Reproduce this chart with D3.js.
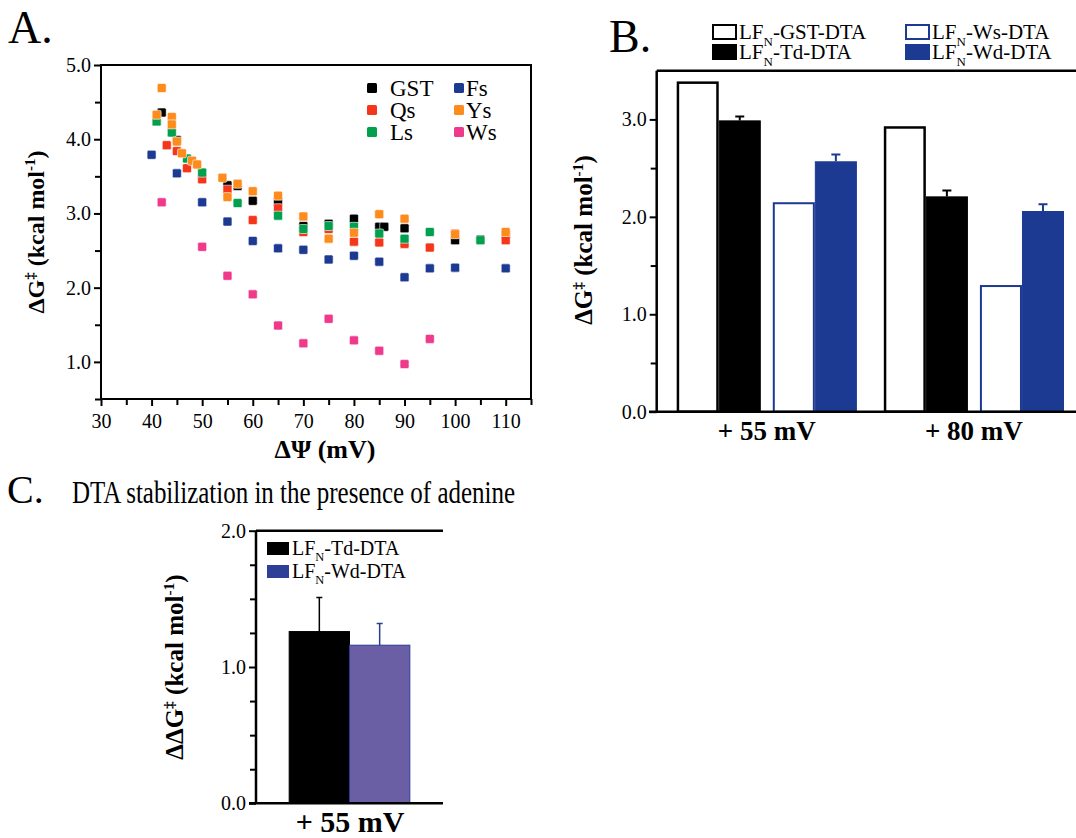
<!DOCTYPE html>
<html lang="en">
<head>
<meta charset="UTF-8">
<title>DTA translocation</title>
<script src="https://d3js.org/d3.v7.min.js"></script>
<style>
body { margin: 0; background: #fff; }
svg text { font-family: "Liberation Serif", "Times New Roman", serif; fill: #000; }
.axis path, .axis line { stroke: #000; stroke-width: 2; }
.axis text { font-size: 20px; }
</style>
</head>
<body>
<svg width="1076" height="838"></svg>
<script>
// ---- Panel A: ΔG‡ vs ΔΨ for each construct ----
const gstX = [42, 45, 55, 57, 60, 65, 70, 75, 80, 85, 86, 90, 100, 105, 110];
const gstY = [4.36, 3.99, 3.38, 3.37, 3.17, 3.16, 2.83, 2.86, 2.93, 2.82, 2.82, 2.80, 2.64, 2.65, 2.72];
const qsX = [41, 43, 45, 47, 50, 55, 60, 65, 70, 75, 80, 85, 90, 95, 100, 110];
const qsY = [4.24, 3.92, 3.84, 3.61, 3.46, 3.32, 2.91, 3.07, 2.75, 2.79, 2.62, 2.61, 2.59, 2.54, 2.73, 2.64];
const lsX = [41, 44, 47, 50, 57, 65, 70, 75, 80, 85, 90, 95, 105];
const lsY = [4.24, 4.09, 3.74, 3.55, 3.14, 2.97, 2.79, 2.83, 2.82, 2.73, 2.66, 2.75, 2.64];
const fsX = [40, 45, 50, 55, 60, 65, 70, 75, 80, 85, 90, 95, 100, 110];
const fsY = [3.79, 3.54, 3.15, 2.89, 2.63, 2.53, 2.51, 2.38, 2.43, 2.35, 2.14, 2.26, 2.27, 2.26];
const wsX = [42, 50, 55, 60, 65, 70, 75, 80, 85, 90, 95];
const wsY = [3.15, 2.55, 2.16, 1.91, 1.49, 1.25, 1.58, 1.29, 1.15, 0.97, 1.31];
const ysX = [41, 42, 44, 44, 45, 46, 48, 49, 54, 55, 57, 60, 65, 70, 75, 80, 85, 90, 100, 110];
const ysY = [4.33, 4.69, 4.30, 4.20, 3.97, 3.81, 3.71, 3.66, 3.48, 3.22, 3.40, 3.30, 3.24, 2.96, 2.66, 2.74, 2.99, 2.93, 2.72, 2.75];
const aXTicks = [30, 40, 50, 60, 70, 80, 90, 100, 110];
const aYTicks = [1, 2, 3, 4, 5];

// ---- Panel B: ΔG‡ at two potentials ----
const bGroups = ["+ 55 mV", "+ 80 mV"];
const bGST = [3.39, 2.93];
const bTd = [2.99, 2.21];
const bTdErr = [0.04, 0.06];
const bWs = [2.15, 1.30];
const bWd = [2.57, 2.06];
const bWdErr = [0.07, 0.07];
const bYTicks = [0, 1, 2, 3];

// ---- Panel C: ΔΔG‡ with adenine ----
const cNames = ["Td", "Wd"];
const cVals = [1.26, 1.16];
const cErr = [0.25, 0.16];
const cYTicks = [0, 1, 2];

const blue = "#1d3a93";
const serieColors = { GST: "#000000", Qs: "#f5361b", Ls: "#00a04f", Fs: "#1d3a93", Ws: "#ef3a8b", Ys: "#fd8c1c" };

const svg = d3.select("svg");
svg.append("rect").attr("width", 1076).attr("height", 838).attr("fill", "#fff");

// text with sub/superscripts
function richText(sel, parts, size) {
    let shift = 0;
    parts.forEach(p => {
        let target = 0, fs = size;
        if (p[1] === "sup") { target = -0.38 * size; fs = size * 0.62; }
        if (p[1] === "sub") { target = 0.32 * size; fs = size * 0.62; }
        sel.append("tspan").attr("dy", target - shift).attr("font-size", fs).text(p[0]);
        shift = target;
    });
}

function yTitle(x, y, parts, size) {
    const t = svg.append("text")
        .attr("transform", `translate(${x},${y}) rotate(-90)`)
        .attr("text-anchor", "middle")
        .attr("font-weight", "bold")
        .attr("font-size", size);
    richText(t, parts, size);
}

function lfLabel(x, y, name, size) {
    const t = svg.append("text").attr("x", x).attr("y", y).attr("font-size", size);
    richText(t, [["LF"], ["N", "sub"], ["-" + name + "-DTA"]], size);
}

// panel letters
svg.append("text").attr("x", 8).attr("y", 43).attr("font-size", 46).text("A.");
svg.append("text").attr("x", 609).attr("y", 52).attr("font-size", 46).text("B.");
svg.append("text").attr("x", 7).attr("y", 503).attr("font-size", 40).text("C.");
svg.append("text").attr("x", 72).attr("y", 503).attr("font-size", 31)
    .attr("textLength", 443).attr("lengthAdjust", "spacingAndGlyphs")
    .text("DTA stabilization in the presence of adenine");

// ================= Panel A =================
const xA = d3.scaleLinear().domain([30, 115]).range([101, 531]);
const yA = d3.scaleLinear().domain([0.5, 5]).range([399, 65]);

const gA = svg.append("g");
gA.append("g").attr("class", "axis").attr("transform", "translate(0,399)")
    .call(d3.axisBottom(xA).tickValues(aXTicks).tickSize(7).tickPadding(8).tickFormat(d3.format("d")));
gA.append("g").attr("class", "axis").attr("transform", "translate(0,399)")
    .call(d3.axisBottom(xA).tickValues(d3.range(35, 116, 10)).tickSize(6).tickFormat(""));
gA.append("g").attr("class", "axis").attr("transform", "translate(101,0)")
    .call(d3.axisLeft(yA).tickValues(aYTicks).tickSize(7).tickPadding(3).tickFormat(d3.format(".1f")));
gA.append("g").attr("class", "axis").attr("transform", "translate(101,0)")
    .call(d3.axisLeft(yA).tickValues([0.5, 1.5, 2.5, 3.5, 4.5]).tickSize(6).tickFormat(""));
gA.selectAll(".axis path").attr("d", null);
gA.append("rect").attr("x", xA(30)).attr("y", yA(5))
    .attr("width", xA(115) - xA(30)).attr("height", yA(0.5) - yA(5))
    .attr("fill", "none").attr("stroke", "#000").attr("stroke-width", 2);

const aSeries = [
    ["GST", gstX, gstY], ["Qs", qsX, qsY], ["Ls", lsX, lsY],
    ["Fs", fsX, fsY], ["Ws", wsX, wsY], ["Ys", ysX, ysY]
];
aSeries.forEach(s => {
    const pts = s[1].map((x, i) => ({ x: x, y: s[2][i] }));
    gA.selectAll(null).data(pts).enter().append("rect")
        .attr("x", d => xA(d.x) - 4.5).attr("y", d => yA(d.y) - 4.5)
        .attr("width", 9).attr("height", 9).attr("rx", 1.5)
        .attr("fill", serieColors[s[0]])
        .attr("stroke", "#fff").attr("stroke-width", 0.6);
});

// legend A
const legA = [["GST", 0, 0], ["Qs", 0, 1], ["Ls", 0, 2], ["Fs", 1, 0], ["Ys", 1, 1], ["Ws", 1, 2]];
legA.forEach(l => {
    const lx = l[1] === 0 ? 367 : 454, ly = 88 + l[2] * 22;
    gA.append("rect").attr("x", lx).attr("y", ly - 5).attr("width", 10).attr("height", 10)
        .attr("rx", 1.5).attr("fill", serieColors[l[0]]);
    gA.append("text").attr("x", lx + 23 - (l[1] ? 11 : 0)).attr("y", ly + 8).attr("font-size", 23).text(l[0]);
});

yTitle(44, 232, [["ΔG"], ["‡", "sup"], [" (kcal mol"], ["-1", "sup"], [")"]], 24);
svg.append("text").attr("x", 325).attr("y", 458).attr("text-anchor", "middle")
    .attr("font-weight", "bold").attr("font-size", 26).text("ΔΨ (mV)");

// ================= Panel B =================
const yB = d3.scaleLinear().domain([0, 3.5]).range([411.7, 70.7]);
const xB = d3.scaleBand().domain(bGroups).range([656.7, 1084]).paddingInner(0.13).paddingOuter(0.0965);
const pairB = d3.scaleBand().domain(["T", "W"]).range([0, xB.bandwidth()]).paddingInner(0.125);
const barB = d3.scaleBand().domain([0, 1]).range([0, pairB.bandwidth()]);

const gB = svg.append("g");
const bBars = [];
bGroups.forEach((g, i) => {
    bBars.push({ g: g, pair: "T", k: 0, v: bGST[i], err: 0, fill: "#fff", stroke: "#000", sw: 2.5 });
    bBars.push({ g: g, pair: "T", k: 1, v: bTd[i], err: bTdErr[i], fill: "#000", stroke: "#000", sw: 1 });
    bBars.push({ g: g, pair: "W", k: 0, v: bWs[i], err: 0, fill: "#fff", stroke: blue, sw: 2 });
    bBars.push({ g: g, pair: "W", k: 1, v: bWd[i], err: bWdErr[i], fill: blue, stroke: blue, sw: 1 });
});
const bx = d => xB(d.g) + pairB(d.pair) + barB(d.k);

// error bars first (drawn above bar top only)
gB.selectAll(".errB").data(bBars.filter(d => d.err > 0)).enter().append("path")
    .attr("d", d => {
        const cx = bx(d) + barB.bandwidth() / 2, y0 = yB(d.v), y1 = yB(d.v + d.err);
        return `M${cx},${y0}V${y1}M${cx - 4.5},${y1}H${cx + 4.5}`;
    })
    .attr("stroke", d => d.stroke).attr("stroke-width", 2).attr("fill", "none");
gB.selectAll(".barB").data(bBars).enter().append("rect")
    .attr("x", d => bx(d) + d.sw / 2)
    .attr("y", d => yB(d.v) + d.sw / 2)
    .attr("width", d => barB.bandwidth() - d.sw)
    .attr("height", d => yB(0) - yB(d.v) - d.sw / 2)
    .attr("fill", d => d.fill).attr("stroke", d => d.stroke).attr("stroke-width", d => d.sw);

gB.append("g").attr("class", "axis").attr("transform", "translate(656.7,0)")
    .call(d3.axisLeft(yB).tickValues(bYTicks).tickSize(7).tickPadding(3).tickFormat(d3.format(".1f")));
gB.append("g").attr("class", "axis").attr("transform", "translate(656.7,0)")
    .call(d3.axisLeft(yB).tickValues([0.5, 1.5, 2.5]).tickSize(6).tickFormat(""));
gB.selectAll(".axis path").attr("d", null);
gB.append("path").attr("d", `M656.7,70.7H1090M656.7,70.7V411.7M649,411.7H1090`)
    .attr("stroke", "#000").attr("stroke-width", 2.5).attr("fill", "none");
gB.selectAll(".axis text").attr("font-size", 21);

gB.selectAll(".grpB").data(bGroups).enter().append("text")
    .attr("x", d => xB(d) + xB.bandwidth() / 2).attr("y", 440)
    .attr("text-anchor", "middle").attr("font-weight", "bold").attr("font-size", 27)
    .text(d => d);

// legend B
const legB = [["GST", 712, 24, "#fff", "#000"], ["Td", 712, 44, "#000", "#000"],
              ["Ws", 905, 24, "#fff", blue], ["Wd", 905, 44, blue, blue]];
legB.forEach(l => {
    gB.append("rect").attr("x", l[1] + 1).attr("y", l[2] + 1).attr("width", 23).attr("height", 14)
        .attr("fill", l[3]).attr("stroke", l[4]).attr("stroke-width", 2);
    lfLabel(l[1] + 27, l[2] + 15, l[0], 21);
});
yTitle(592, 240, [["ΔG"], ["‡", "sup"], [" (kcal mol"], ["-1", "sup"], [")"]], 25);

// ================= Panel C =================
const yC = d3.scaleLinear().domain([0, 2]).range([803.3, 530.7]);
const xC = d3.scaleBand().domain(cNames).range([256, 443]).paddingOuter(0.55);
const cFill = { Td: "#000", Wd: "#6a5fa4" };
const cStroke = { Td: "#000", Wd: "#2b3b96" };
const cData = cNames.map((n, i) => ({ n: n, v: cVals[i], err: cErr[i] }));

const gC = svg.append("g");
gC.selectAll(".errC").data(cData).enter().append("path")
    .attr("d", d => {
        const cx = xC(d.n) + xC.bandwidth() / 2, y0 = yC(d.v), y1 = yC(d.v + d.err);
        return `M${cx},${y0}V${y1}M${cx - 3},${y1}H${cx + 3}`;
    })
    .attr("stroke", d => cStroke[d.n]).attr("stroke-width", 1.5).attr("fill", "none");
gC.selectAll(".barC").data(cData).enter().append("rect")
    .attr("x", d => xC(d.n)).attr("y", d => yC(d.v))
    .attr("width", xC.bandwidth()).attr("height", d => yC(0) - yC(d.v))
    .attr("fill", d => cFill[d.n]).attr("stroke", d => cStroke[d.n]).attr("stroke-width", 1);

gC.append("g").attr("class", "axis").attr("transform", "translate(256,0)")
    .call(d3.axisLeft(yC).tickValues(cYTicks).tickSize(7).tickPadding(3).tickFormat(d3.format(".1f")));
gC.append("g").attr("class", "axis").attr("transform", "translate(256,0)")
    .call(d3.axisLeft(yC).tickValues([0.25, 0.5, 0.75, 1.25, 1.5, 1.75]).tickSize(6).tickFormat(""));
gC.selectAll(".axis path").attr("d", null);
gC.selectAll(".axis text").attr("font-size", 24);
gC.append("path").attr("d", `M256,530.7H443M256,530.7V803.3M249,803.3H443`)
    .attr("stroke", "#000").attr("stroke-width", 2.5).attr("fill", "none");

gC.append("text").attr("x", xC.range()[0] + (xC.range()[1] - xC.range()[0]) / 2 + 0.5).attr("y", 832)
    .attr("text-anchor", "middle").attr("font-weight", "bold").attr("font-size", 30).text("+ 55 mV");

const legC = [["Td", 545, "#000"], ["Wd", 568, "#2d3f96"]];
legC.forEach(l => {
    gC.append("rect").attr("x", 267).attr("y", l[1] - 3).attr("width", 22).attr("height", 13).attr("fill", l[2]);
    lfLabel(292, l[1] + 10, l[0], 20);
});
yTitle(183, 667, [["ΔΔG"], ["‡", "sup"], [" (kcal mol"], ["-1", "sup"], [")"]], 25);
</script>
</body>
</html>
